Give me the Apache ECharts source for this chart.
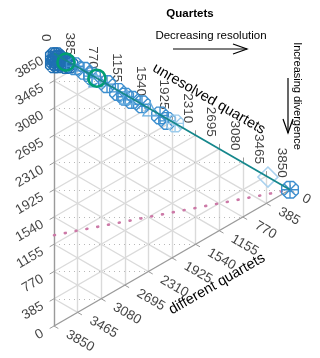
<!DOCTYPE html>
<html><head><meta charset="utf-8">
<script src="https://cdn.jsdelivr.net/npm/echarts@6/dist/echarts.min.js"></script>
<style>html,body{margin:0;padding:0;background:#fff}#c{width:320px;height:358px}</style>
</head><body><div id="c"></div>
<script>
const TOTAL = 3850;
const ticks = [0, 385, 770, 1155, 1540, 1925, 2310, 2695, 3080, 3465, 3850];
const tickLabels = ['0', '385', '770', '1155', '1540', '1925', '2310', '2695', '3080', '3465', '3850'];
// points as [unresolved quartets, different quartets]
const darkBlue = [[0, 40], [30, 70], [20, 110], [80, 30], [110, 70], [60, 120], [150, 40], [40, 20], [200, 60], [250, 30], [0, 150]];
const midBlue = [[340, 10], [490, 0], [620, 10], [865, 0], [1045, 20], [1160, 30], [1270, 20], [1435, 0], [1730, 10], [1845, 30], [3850, 0]];
const lightTriangles = [[685, 30], [1190, 20], [1565, 0]];
const paleBlue = [[1975, 0]];
const paleDiamond = [[3490, 0]];
const greenCircles = [[195, 25], [700, 0]];
const referenceLine = [[0, 0], [3850, 0]];
const randomLine = [[0, 2567], [3850, 0]];

const SQ = Math.sqrt(3) / 2;
const PX = 1 / 272.5;
function toXY(u, d) { const s = TOTAL - u - d; return [u / TOTAL * SQ, (s + u / 2) / TOTAL]; }
function add(p, dir, k) { return [p[0] + dir[0] * k, p[1] + dir[1] * k]; }

const inner = ticks.slice(1, -1);
const gridSeg = [];
inner.forEach(v => {
  gridSeg.push({ coords: [toXY(v, 0), toXY(v, TOTAL - v)] });
  gridSeg.push({ coords: [toXY(0, v), toXY(TOTAL - v, v)] });
  gridSeg.push({ coords: [toXY(0, TOTAL - v), toXY(TOTAL - v, 0)] });
});
const dotSeg = inner.map(v => {
  const y = v / TOTAL;
  const xe = y >= 0.5 ? (1 - y) * Math.sqrt(3) : y * Math.sqrt(3);
  return { coords: [[0, y], [xe, y]] };
});
const edgeSeg = [
  { coords: [toXY(0, 0), toXY(0, TOTAL)] },
  { coords: [toXY(0, TOTAL), toXY(TOTAL, 0)] }
];
const TL = 5 * PX, GAP = 8 * PX;
const dirL = [-SQ, -0.5], dirT = [0, 1], dirB = [SQ, -0.5];
const tickSeg = [];
const labL = [], labT = [], labB = [];
ticks.forEach((v, i) => {
  const pl = toXY(0, TOTAL - v);
  tickSeg.push({ coords: [pl, add(pl, dirL, TL)] });
  labL.push({ value: add(pl, dirL, TL + GAP), name: tickLabels[i] });
  const pt = toXY(v, 0);
  tickSeg.push({ coords: [pt, add(pt, dirT, TL)] });
  const at = add(pt, dirT, TL + GAP - 1 * PX);
  labT.push({ value: [at[0] - 8 * PX, at[1]], name: tickLabels[i] });
  const pb = toXY(TOTAL - v, v);
  tickSeg.push({ coords: [pb, add(pb, dirB, TL)] });
  labB.push({ value: add(pb, dirB, TL + GAP + 2 * PX), name: tickLabels[i] });
});

const FONT = 'Liberation Sans, Arial, Helvetica, sans-serif';
function labelSeries(data, rotate, align) {
  return {
    type: 'scatter', data, symbolSize: 0, clip: false, silent: true, z: 5,
    label: { show: true, formatter: '{b}', position: 'inside', rotate, align, verticalAlign: 'middle',
      color: '#111', fontSize: 13.5, fontFamily: FONT }
  };
}
const wheel = 'path://M1,0L-1,0M0,1L0,-1M0.707,0.707L-0.707,-0.707M0.707,-0.707L-0.707,0.707M0.924,0.383L0.383,0.924L-0.383,0.924L-0.924,0.383L-0.924,-0.383L-0.383,-0.924L0.383,-0.924L0.924,-0.383Z';
function pts(arr) { return arr.map(p => toXY(p[0], p[1])); }
function markSeries(arr, symbol, size, color, width, z) {
  return { type: 'scatter', data: pts(arr), symbol, symbolSize: size, clip: false, silent: true, z: z || 6,
    itemStyle: { color: 'transparent', borderColor: color, borderWidth: width, opacity: 1 } };
}

const chart = echarts.init(document.getElementById('c'), null, { renderer: 'canvas' });
chart.setOption({
  animation: false,
  grid: { left: 54, top: 53.5, width: 236, height: 272.5 },
  xAxis: { type: 'value', min: 0, max: SQ, show: false },
  yAxis: { type: 'value', min: 0, max: 1, show: false },
  series: [
    { type: 'lines', coordinateSystem: 'cartesian2d', data: gridSeg, clip: false, silent: true, z: 1,
      lineStyle: { color: '#dadada', width: 1.4, opacity: 1 } },
    { type: 'lines', coordinateSystem: 'cartesian2d', data: dotSeg, clip: false, silent: true, z: 1,
      lineStyle: { color: '#b8b8b8', width: 1, type: [1, 4], opacity: 1 } },
    { type: 'lines', coordinateSystem: 'cartesian2d', data: edgeSeg, clip: false, silent: true, z: 2,
      lineStyle: { color: '#9a9a9a', width: 1.4, opacity: 1 } },
    { type: 'lines', coordinateSystem: 'cartesian2d', data: tickSeg, clip: false, silent: true, z: 2,
      lineStyle: { color: '#9a9a9a', width: 1, opacity: 1 } },
    labelSeries(labL, 30, 'right'),
    labelSeries(labT, -90, 'right'),
    labelSeries(labB, -30, 'left'),
    { type: 'line', data: pts(randomLine), symbol: 'none', clip: false, silent: true, z: 3,
      lineStyle: { color: '#cc79a7', width: 2.6, type: [1, 10], cap: 'round' } },
    markSeries(darkBlue, wheel, 18, '#1f6fb4', 1.5),
    markSeries(midBlue, wheel, 18, '#3d8fcf', 1.4),
    markSeries(lightTriangles, 'triangle', 14, '#6aaee0', 1.4),
    markSeries(paleBlue, wheel, 18, '#9ccbeb', 1.4),
    markSeries(paleDiamond, 'diamond', 20, '#a9d1ee', 1.6),
    markSeries(greenCircles, 'circle', 17, '#009e73', 2.6, 7),
    { type: 'line', data: pts(referenceLine), symbol: 'none', clip: false, silent: true, z: 8,
      lineStyle: { color: '#15878c', width: 1.8 } }
  ],
  graphic: [
    { type: 'text', x: 190, y: 14, style: { text: 'Quartets', font: 'bold 11.5px ' + FONT, fill: '#000', align: 'center', verticalAlign: 'middle' } },
    { type: 'text', x: 211, y: 36, style: { text: 'Decreasing resolution', font: '11.5px ' + FONT, fill: '#000', align: 'center', verticalAlign: 'middle' } },
    { type: 'polyline', shape: { points: [[173, 49], [247, 49]] }, style: { stroke: '#000', lineWidth: 1.2 } },
    { type: 'polyline', shape: { points: [[233, 44], [247, 49], [233, 54]] }, style: { stroke: '#000', lineWidth: 1.2, fill: null } },
    { type: 'text', x: 297, y: 96, rotation: -Math.PI / 2, style: { text: 'Increasing divergence', font: '11px ' + FONT, fill: '#000', align: 'center', verticalAlign: 'middle' } },
    { type: 'polyline', shape: { points: [[288, 78], [288, 133]] }, style: { stroke: '#000', lineWidth: 1.2 } },
    { type: 'polyline', shape: { points: [[283, 119], [288, 133], [293, 119]] }, style: { stroke: '#000', lineWidth: 1.2, fill: null } },
    { type: 'text', x: 209, y: 99, rotation: -Math.PI / 6, style: { text: 'unresolved quartets', font: '14.5px ' + FONT, fill: '#000', align: 'center', verticalAlign: 'middle' } },
    { type: 'text', x: 217, y: 284, rotation: Math.PI / 6, style: { text: 'different quartets', font: '14.5px ' + FONT, fill: '#000', align: 'center', verticalAlign: 'middle' } }
  ]
});
</script></body></html>
